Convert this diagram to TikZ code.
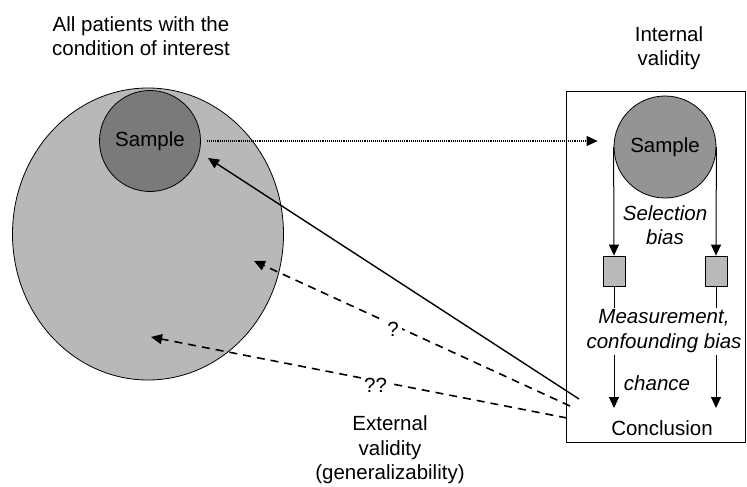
\documentclass[tikz,border=0pt]{standalone}
\usepackage{fontspec}
\setmainfont{Liberation Sans}
\usetikzlibrary{arrows.meta,shapes.geometric}

\tikzset{
    every node/.style = {font=\fontsize{20.5}{24.5}\selectfont, align=center},
    tip/.style = {-{Triangle[width=10pt,length=11pt]}},
    pool/.style = {ellipse, draw, line width=0.8pt, fill=black!28},
    smp/.style = {circle, draw, line width=0.8pt, inner sep=0pt},
    meas/.style = {rectangle, draw, line width=0.8pt, fill=black!27, minimum width=22pt, minimum height=30pt, inner sep=0pt},
    qmark/.style = {fill=white, inner sep=3pt}
}

\begin{document}
\begin{tikzpicture}[x=1pt, y=-1pt]
    \useasboundingbox (0,0) rectangle (747,487);

    \node (allhead) at (141,36) {All patients with the\\condition of interest};
    \node[pool, minimum width=271pt, minimum height=292pt] (pop) at (148,234) {};
    \node[smp, fill=black!52, minimum size=101pt] (sampleL) at (150,141) {Sample};

    \node (inthead) at (669,48) {Internal\\validity};
    \node[draw, line width=0.8pt, minimum width=179pt, minimum height=351pt, inner sep=0pt] (intbox) at (656,266.5) {};
    \node[smp, fill=black!42, minimum size=102pt] (sampleR) at (665,147) {Sample};
    \node[font=\fontsize{20.5}{24.5}\selectfont\itshape] (selbias) at (665,225) {Selection\\bias};
    \node[meas] (mL) at (614,271) {};
    \node[meas] (mR) at (716,271) {};
    \node[font=\fontsize{20.5}{24.5}\selectfont\itshape] (measbias) at (664,331) {Measurement,\\confounding bias};
    \node[font=\fontsize{20.5}{24.5}\selectfont\itshape] (chance) at (657,383) {chance};
    \node (concl) at (662,428) {Conclusion};

    \node (exthead) at (390,450) {External\\validity\\(generalizability)};

    \coordinate (solidS) at (579,399);
    \coordinate (solidE) at (208,158);
    \coordinate (dashAS) at (570,406);
    \coordinate (dashAE) at (254,261);
    \coordinate (dashBS) at (567,418);
    \coordinate (dashBE) at (151,337);
    \coordinate (mLb) at (614,308);
    \coordinate (mRb) at (716,308);
    \coordinate (cLt) at (614,355);
    \coordinate (cRt) at (716,355);
    \coordinate (cLb) at (614,408);
    \coordinate (cRb) at (716,408);

    \draw[tip, densely dotted, line width=1.1pt, shorten <=6pt, shorten >=16pt] (sampleL.east) -- (sampleL.east -| sampleR.west);

    \draw[tip, line width=1pt] (sampleR.west) -- (mL.north);
    \draw[tip, line width=1pt] (sampleR.east) -- (mR.north);
    \draw[line width=1pt] (mL.south) -- (mLb);
    \draw[line width=1pt] (mR.south) -- (mRb);
    \draw[tip, line width=1pt] (cLt) -- (cLb);
    \draw[tip, line width=1pt] (cRt) -- (cRb);

    \draw[tip, line width=1.4pt] (solidS) -- (solidE);
    \draw[tip, line width=1.6pt, dash pattern=on 8pt off 6pt] (dashAS) -- node[qmark, pos=0.56, yshift=-5pt] (q1) {?} (dashAE);
    \draw[tip, line width=1.6pt, dash pattern=on 8pt off 6pt] (dashBS) -- node[qmark, pos=0.46, yshift=-5pt] (q2) {??} (dashBE);
\end{tikzpicture}
\end{document}
